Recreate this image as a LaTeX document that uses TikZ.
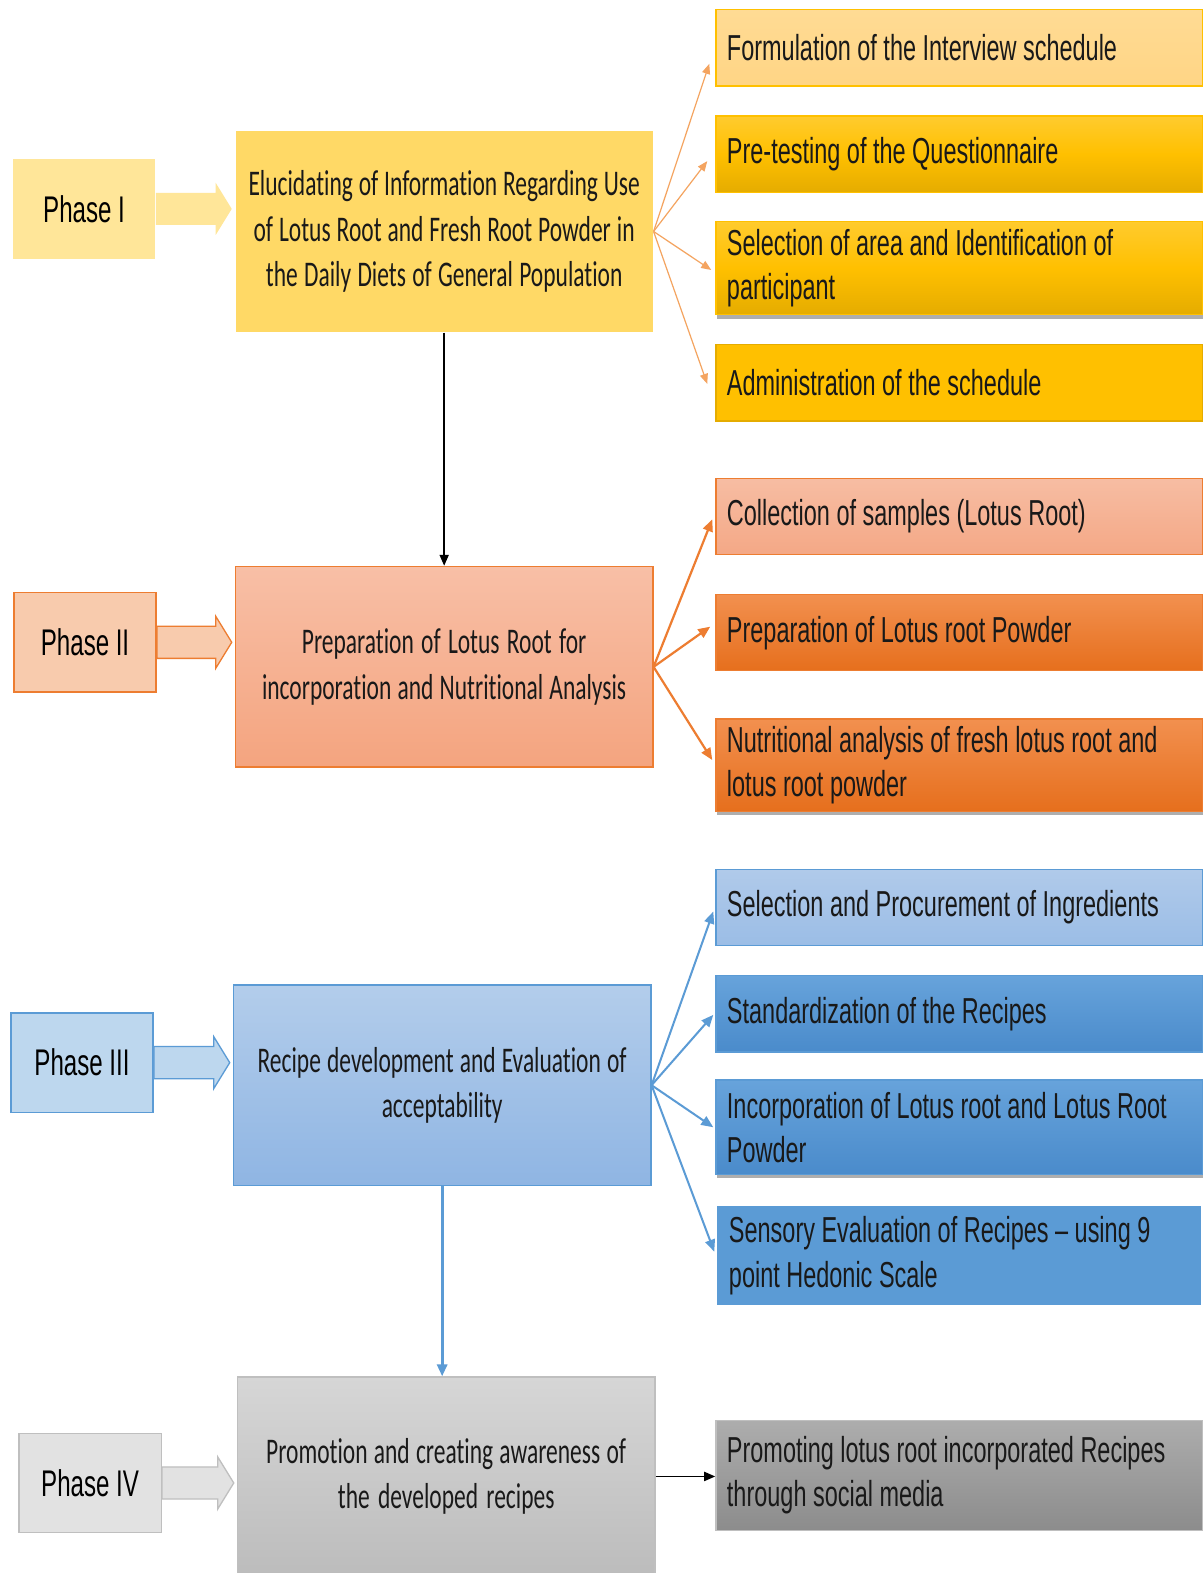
\documentclass[tikz,border=0pt]{standalone}
\usepackage{fontspec}
\setmainfont{Carlito}
\newfontfamily\mainfnt[FakeStretch=0.65,Ligatures=NoCommon]{Carlito}
\newfontfamily\narrowfnt[FakeStretch=0.65,Ligatures=NoCommon]{Liberation Sans}
\usetikzlibrary{calc,shadows,arrows.meta}
\definecolor{phA}{HTML}{FFE699}
\definecolor{mA}{HTML}{FFD966}
\definecolor{oA}{HTML}{F4A460}
\definecolor{gold}{HTML}{FFC000}
\definecolor{goldT}{HTML}{FFCB2E}
\definecolor{goldB}{HTML}{E5AC00}
\definecolor{formT}{HTML}{FFDB94}
\definecolor{formB}{HTML}{FFD585}
\definecolor{orng}{HTML}{ED7D31}
\definecolor{phB}{HTML}{F8CBAD}
\definecolor{mBT}{HTML}{F8BFA6}
\definecolor{mBB}{HTML}{F4A47F}
\definecolor{colT}{HTML}{F7BDA3}
\definecolor{colB}{HTML}{F4A886}
\definecolor{orT}{HTML}{F2904F}
\definecolor{orB}{HTML}{E66F1D}
\definecolor{blu}{HTML}{5B9BD5}
\definecolor{phC}{HTML}{BDD7EE}
\definecolor{mCT}{HTML}{B3CDEB}
\definecolor{mCB}{HTML}{8FB5E3}
\definecolor{selT}{HTML}{B0CAEA}
\definecolor{selB}{HTML}{9BBDE6}
\definecolor{bT}{HTML}{67A3DB}
\definecolor{bB}{HTML}{4A8BCB}
\definecolor{phD}{HTML}{E2E2E2}
\definecolor{gryL}{HTML}{BFBFBF}
\definecolor{mDT}{HTML}{D6D6D6}
\definecolor{mDB}{HTML}{BCBCBC}
\definecolor{prT}{HTML}{ADADAD}
\definecolor{prB}{HTML}{8C8C8C}
\newcommand\blockarr[3]{%
  \coordinate (ba-t) at ($(#2.west |- #1.east)+(-3,0)$);
  \path[#3] ($(#1.east)+(0,-16)$) -- ($(ba-t)+(-16,-16)$) -- ($(ba-t)+(-16,-26)$) -- (ba-t)
    -- ($(ba-t)+(-16,26)$) -- ($(ba-t)+(-16,16)$) -- ($(#1.east)+(0,16)$) -- cycle;}
\tikzset{
  phase/.style={anchor=north west, inner sep=0pt, line width=1.5pt, minimum width=142pt, minimum height=99pt,
    font=\narrowfnt\fontsize{37}{44}\selectfont, execute at begin node={\spaceskip=6.5pt plus 2pt minus 1pt\relax}},
  mainbox/.style={anchor=north west, inner sep=0pt, line width=1.5pt, minimum width=416pt, minimum height=200pt,
    text width=414pt, align=center, font=\mainfnt\fontsize{36}{45.5}\selectfont, text=black!90,
    execute at begin node={\spaceskip=5.5pt plus 2pt minus 1pt\relax\xspaceskip=5.5pt\relax\hyphenpenalty=10000\relax}},
  rbox/.style={anchor=north west, inner xsep=11pt, inner ysep=0pt, line width=1.3pt, text width=463pt,
    align=left, minimum height=76pt, font=\narrowfnt\fontsize{36}{44}\selectfont, text=black!90,
    execute at begin node={\spaceskip=6.5pt plus 2pt minus 1pt\relax\xspaceskip=6.5pt\relax\hyphenpenalty=10000\relax}},
  shad/.style={drop shadow={shadow xshift=1pt, shadow yshift=-4pt, opacity=0.45, fill=black!70}},
  fanA/.style={draw=oA, line width=1.2pt, -{Triangle[length=10pt,width=8pt]}},
  fanB/.style={draw=orng, line width=2.2pt, -{Triangle[length=12pt,width=10pt]}},
  fanC/.style={draw=blu, line width=2pt, -{Triangle[length=12pt,width=10pt]}},
}
\begin{document}
\begin{tikzpicture}[x=1pt,y=-1pt]
\useasboundingbox (0,0) rectangle (1200,1568);
\fill[white] (0,0) rectangle (1200,1568);

% ---------- Phase I ----------
\node[phase, fill=phA] (p1) at (12,158) {Phase I};
\node[mainbox, fill=mA] (m1) at (234,130)
  {Elucidating of Information Regarding Use\\ of Lotus Root and Fresh Root Powder in\\ the Daily Diets of General Population};
\blockarr{p1}{m1}{fill=phA}
\node[rbox, top color=formT, bottom color=formB, draw=gold] (r11) at (713,9) {Formulation of the Interview schedule};
\node[rbox, top color=goldT, bottom color=goldB, middle color=gold, draw=gold] (r12) at (713,115) {Pre-testing of the Questionnaire};
\node[rbox, top color=goldT, bottom color=goldB, middle color=gold, draw=gold, shad, minimum height=93pt] (r13) at (713,220)
  {Selection of area and Identification of\\ participant};
\node[rbox, fill=gold, draw=goldB] (r14) at (713,343) {Administration of the schedule};
\draw[fanA] (m1.east) -- ($(r11.west)+(-6,16)$);
\draw[fanA] (m1.east) -- ($(r12.west)+(-8,7)$);
\draw[fanA] (m1.east) -- ($(r13.west)+(-4,2)$);
\draw[fanA] (m1.east) -- ($(r14.west)+(-8,1)$);

% ---------- Phase II ----------
\node[phase, fill=phB, draw=orng] (p2) at (13,590) {Phase II};
\node[mainbox, top color=mBT, bottom color=mBB, draw=orng] (m2) at (234,564)
  {Preparation of Lotus Root for\\ incorporation and Nutritional Analysis};
\blockarr{p2}{m2}{fill=phB, draw=orng, line width=1.3pt}
\node[rbox, top color=colT, bottom color=colB, draw=orng] (r21) at (713,476) {Collection of samples (Lotus Root)};
\node[rbox, top color=orT, bottom color=orB, draw=orng] (r22) at (713,592) {Preparation of Lotus root Powder};
\node[rbox, top color=orT, bottom color=orB, draw=orng, shad, minimum height=92pt] (r23) at (713,716)
  {Nutritional analysis of fresh lotus root and\\ lotus root powder};
\draw[fanB] (m2.east) -- ($(r21.west)+(-3,3)$);
\draw[fanB] (m2.east) -- ($(r22.west)+(-5,-6)$);
\draw[fanB] (m2.east) -- ($(r23.west)+(-3,-5)$);

\draw[black, line width=1.8pt, -{Triangle[length=11pt,width=9pt]}] (m1.south) -- (m1.south |- m2.north);

% ---------- Phase III ----------
\node[phase, fill=phC, draw=blu] (p3) at (10,1009) {Phase III};
\node[mainbox, top color=mCT, bottom color=mCB, draw=blu] (m3) at (232,981)
  {Recipe development and Evaluation of\\ acceptability};
\blockarr{p3}{m3}{fill=phC, draw=blu, line width=1.3pt}
\node[rbox, top color=selT, bottom color=selB, draw=blu] (r31) at (713,866) {Selection and Procurement of Ingredients};
\node[rbox, top color=bT, bottom color=bB, draw=blu] (r32) at (713,972) {Standardization of the Recipes};
\node[rbox, top color=bT, bottom color=bB, draw=blu, shad, minimum height=94pt] (r33) at (713,1076)
  {Incorporation of Lotus root and Lotus Root\\ Powder};
\node[rbox, fill=blu, draw=blu, minimum height=98pt, text width=459pt] (r34) at (715,1202)
  {Sensory Evaluation of Recipes – using 9\\ point Hedonic Scale};
\draw[fanC] (m3.east) -- ($(r31.west)+(-2,4)$);
\draw[fanC] (m3.east) -- ($(r32.west)+(-2,1)$);
\draw[fanC] (m3.east) -- ($(r33.west)+(-2,0)$);
\draw[fanC] (m3.east) -- ($(r34.west)+(-3,-4)$);

% ---------- Phase IV ----------
\node[phase, fill=phD, draw=gryL] (p4) at (18,1428) {Phase IV};
\node[mainbox, top color=mDT, bottom color=mDB, draw=gryL, minimum height=198pt] (m4) at (236,1372)
  {Promotion and creating awareness of\\ the developed recipes};
\blockarr{p4}{m4}{fill=phD, draw=gryL, line width=1.3pt}
\node[rbox, top color=prT, bottom color=prB, draw=gryL, minimum height=110pt] (r41) at (713,1415)
  {Promoting lotus root incorporated Recipes\\ through social media};

\draw[blu, line width=3pt, -{Triangle[length=12pt,width=10pt]}] (m3.south) -- (m3.south |- m4.north);
\draw[black, line width=1.8pt, -{Triangle[length=11pt,width=9pt]}] (m4.east) -- (m4.east -| r41.west);
\end{tikzpicture}
\end{document}
